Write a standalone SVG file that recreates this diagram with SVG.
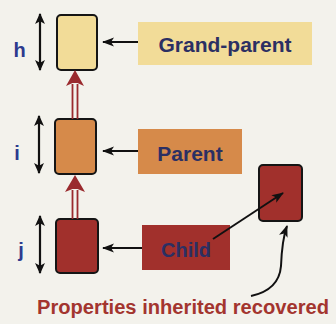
<svg xmlns="http://www.w3.org/2000/svg" width="336" height="324" viewBox="0 0 336 324">
  <defs>
    <marker id="head" viewBox="0 0 10 10" refX="9" refY="5" markerWidth="11" markerHeight="11" markerUnits="userSpaceOnUse" orient="auto-start-reverse">
      <path d="M0,0.5 L10,5 L0,9.5 L2.5,5 Z" fill="#111"/>
    </marker>
    <marker id="headL" viewBox="0 0 12 10" refX="11" refY="5" markerWidth="12" markerHeight="10" markerUnits="userSpaceOnUse" orient="auto">
      <path d="M0,0.5 L12,5 L0,9.5 L3,5 Z" fill="#111"/>
    </marker>
  </defs>
  <style>
    .node { stroke: #151515; stroke-width: 2; }
    .gp { fill: #f2dc98; }
    .pa { fill: #d68a4a; }
    .ch { fill: #a1302c; }
    .lbl { font-family: "Liberation Sans", Arial, sans-serif; font-weight: bold; fill: #2b2f63; }
    .dim { stroke: #111; stroke-width: 2.2; fill: none; }
    .ptr { stroke: #111; stroke-width: 2; fill: none; }
    .inh { stroke: #9a2a2e; stroke-width: 1.8; fill: none; }
    .inhHead { fill: #9a2a2e; }
    .lvl { font-family: "Liberation Sans", Arial, sans-serif; font-weight: bold; fill: #2d3a8e; font-size: 20px; }
  </style>

  <rect width="336" height="324" fill="#f3f2ec"/>

  <!-- Grand-parent -->
  <g id="grandparent">
    <rect class="node gp" x="57" y="15" width="40" height="55" rx="4"/>
    <rect class="gp" x="138" y="22" width="174" height="43"/>
    <text class="lbl" x="225" y="52" font-size="21" text-anchor="middle">Grand-parent</text>
  </g>

  <!-- Parent -->
  <g id="parent">
    <rect class="node pa" x="55" y="119" width="41" height="55" rx="4"/>
    <rect class="pa" x="138" y="129" width="104" height="45"/>
    <text class="lbl" x="190" y="161" font-size="21" text-anchor="middle">Parent</text>
  </g>

  <!-- Child -->
  <g id="child">
    <rect class="node ch" x="56" y="219" width="42" height="54" rx="4"/>
    <rect class="ch" x="142" y="225" width="88" height="45"/>
    <text class="lbl" x="186" y="257" font-size="20" text-anchor="middle">Child</text>
  </g>

  <!-- Recovered child -->
  <g id="recovered">
    <rect class="node ch" x="259" y="165" width="43" height="56" rx="4"/>
  </g>

  <!-- Level markers -->
  <g id="levels">
    <line class="dim" x1="40" y1="14" x2="40" y2="70" marker-start="url(#head)" marker-end="url(#head)"/>
    <text class="lvl" x="19.5" y="57" text-anchor="middle">h</text>
    <line class="dim" x1="39" y1="116" x2="39" y2="173" marker-start="url(#head)" marker-end="url(#head)"/>
    <text class="lvl" x="17" y="160" text-anchor="middle">i</text>
    <line class="dim" x1="40" y1="216" x2="40" y2="273" marker-start="url(#head)" marker-end="url(#head)"/>
    <text class="lvl" x="21" y="257" text-anchor="middle">j</text>
  </g>

  <!-- Connectors -->
  <g id="connectors">
    <line class="ptr" x1="138" y1="42" x2="103" y2="42" marker-end="url(#headL)"/>
    <line class="ptr" x1="138" y1="151" x2="103" y2="151" marker-end="url(#headL)"/>
    <line class="ptr" x1="142" y1="248" x2="103" y2="248" marker-end="url(#headL)"/>

    <!-- inheritance links -->
    <line class="inh" x1="72.5" y1="84" x2="72.5" y2="119"/>
    <line class="inh" x1="77.5" y1="84" x2="77.5" y2="119"/>
    <path class="inhHead" d="M75,70 L84,86 L77.5,83 L72.5,83 L66,86 Z"/>
    <line class="inh" x1="72.5" y1="190" x2="72.5" y2="219"/>
    <line class="inh" x1="77.5" y1="190" x2="77.5" y2="219"/>
    <path class="inhHead" d="M75,175 L85,192 L77.5,189 L72.5,189 L65,192 Z"/>

    <line class="ptr" x1="213" y1="239" x2="283" y2="193" marker-end="url(#headL)"/>
    <path class="ptr" d="M251,296 Q279,290 281,266 Q282,240 287,226" marker-end="url(#headL)"/>
  </g>

  <text x="183" y="314" font-family="Liberation Sans, Arial, sans-serif" font-weight="bold" font-size="20" fill="#a3352f" text-anchor="middle" textLength="292" lengthAdjust="spacingAndGlyphs">Properties inherited recovered</text>
</svg>
